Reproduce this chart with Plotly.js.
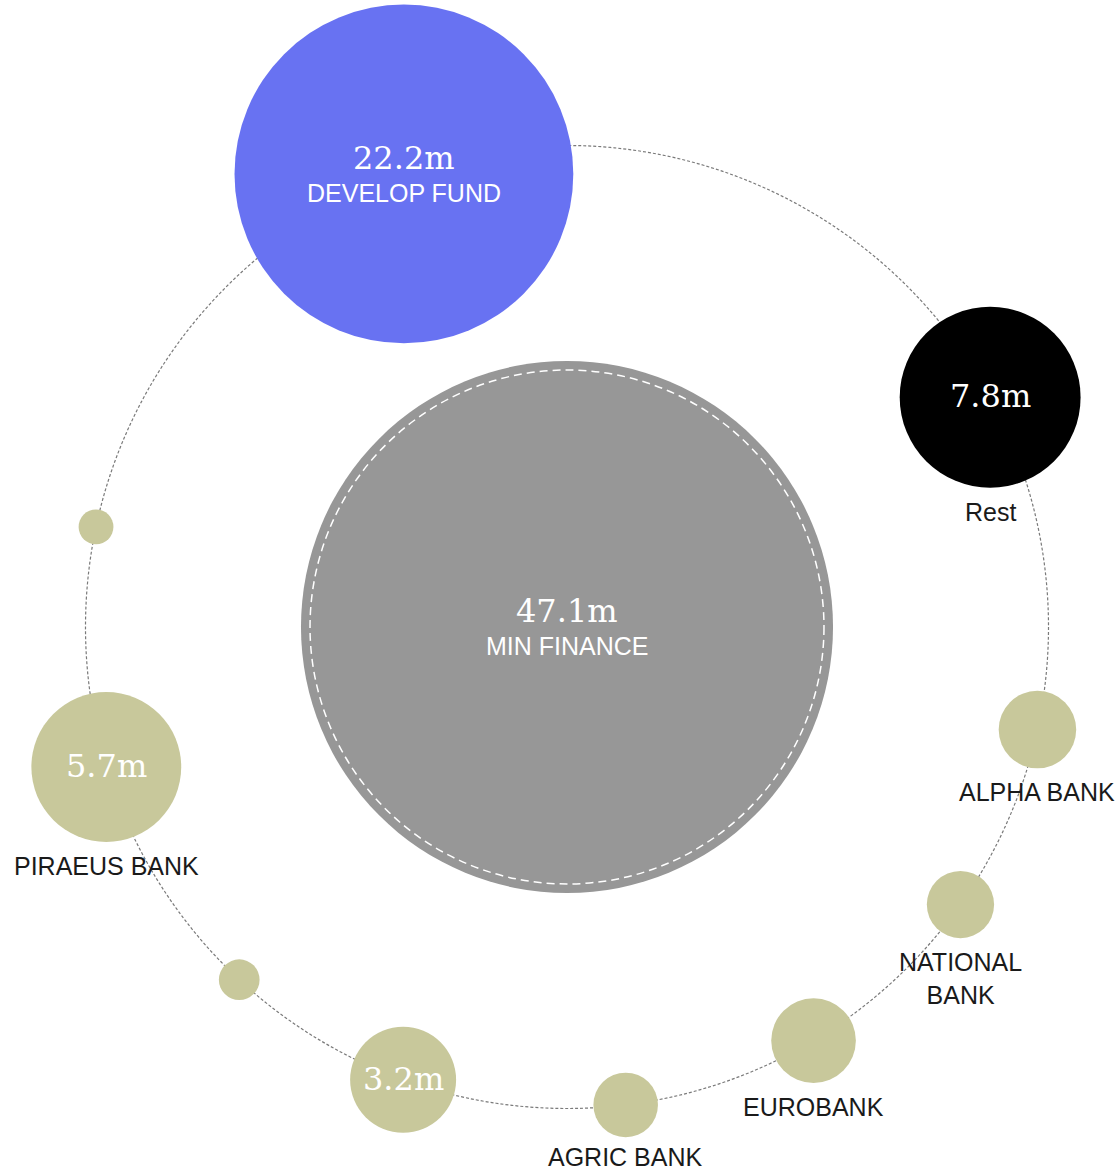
<!DOCTYPE html>
<html>
<head>
<meta charset="utf-8">
<script src="https://cdn.plot.ly/plotly-3.0.1.min.js"></script>
<style>
html,body{margin:0;padding:0;background:#ffffff;}
#chart{width:1117px;height:1172px;}
</style>
</head>
<body>
<div id="chart"></div>
<script>
// ---------- data (millions) ----------
const names   = ["MIN FINANCE", "DEVELOP FUND", "Rest", "ALPHA BANK", "NATIONAL<br>BANK", "EUROBANK", "AGRIC BANK", "", "", "PIRAEUS BANK", ""];
const amounts = [47.1, 22.2, 7.8, 1.9, 1.5, 2.2, 1.4, 3.2, 0.65, 5.7, 0.5];
const groups  = ["centre", "fund", "rest", "bank", "bank", "bank", "bank", "bank", "bank", "bank", "bank"];

// ---------- layout of the ring (position of each holder, degrees) ----------
const onRing    = [0, 1, 1, 1, 1, 1, 1, 1, 1, 1, 1];
const ringAngle = [0, 109.8, 28.5, -12.3, -35.2, -59.2, -83.0, -109.9, -132.9, -163.1, 168.0];

// ---------- styles ----------
const groupColor = {centre: "#979797", fund: "#6872F2", rest: "#000000", bank: "#C8C89B"};
const W = 1117, H = 1172;
const ringPx = 481.5;           // pixel radius of the orbit
const centrePx = [567, 627];    // pixel position of the ring centre
const radiusPx = v => 26.37 * Math.pow(v, 0.6);   // power scale for bubble radius
const labelSize = 25;

const xs = ringAngle.map((a, i) => onRing[i] * Math.cos(a * Math.PI / 180));
const ys = ringAngle.map((a, i) => onRing[i] * Math.sin(a * Math.PI / 180));
const radii = amounts.map(radiusPx);

const bubbles = {
  type: "scatter",
  mode: "markers",
  x: xs, y: ys,
  marker: {
    size: radii.map(r => 2 * r),
    sizemode: "diameter",
    color: groups.map(g => groupColor[g]),
    opacity: 1,
    line: {width: 0}
  },
  cliponaxis: false,
  hoverinfo: "skip"
};

const annotations = [];
amounts.forEach((v, i) => {
  const r = radii[i];
  const innerName = r > 150;
  if (r > 45) {
    annotations.push({
      x: xs[i], y: ys[i], xref: "x", yref: "y",
      text: v.toFixed(1) + "m",
      showarrow: false, xanchor: "center", yanchor: "middle",
      yshift: innerName ? 16 : 1,
      font: {family: "DejaVu Serif", size: 32, color: "#ffffff"}
    });
  }
  if (names[i]) {
    let shift = innerName ? -19 : -(r + 8);
    if (!innerName) {
      // keep the label inside the figure
      const py = centrePx[1] - ys[i] * ringPx;
      const lines = names[i].split("<br>").length;
      const bottom = py + r + 8 + labelSize * 1.2 * lines;
      if (bottom > H - 1) shift += bottom - (H - 1);
    }
    annotations.push({
      x: xs[i], y: ys[i], xref: "x", yref: "y",
      text: names[i],
      showarrow: false, xanchor: "center",
      yanchor: innerName ? "middle" : "top",
      yshift: shift,
      font: {family: "Liberation Sans, Arial, sans-serif", size: labelSize, color: innerName ? "#ffffff" : "#1a1a1a"}
    });
  }
});

const innerRing = radii[0] * 0.966 / ringPx;

const layout = {
  width: W, height: H,
  margin: {l: 0, r: 0, t: 0, b: 0},
  paper_bgcolor: "#ffffff", plot_bgcolor: "#ffffff",
  showlegend: false,
  hovermode: false,
  xaxis: {range: [-centrePx[0] / ringPx, (W - centrePx[0]) / ringPx], visible: false, fixedrange: true},
  yaxis: {range: [-(H - centrePx[1]) / ringPx, centrePx[1] / ringPx], visible: false, fixedrange: true},
  shapes: [
    {type: "circle", xref: "x", yref: "y", x0: -1, x1: 1, y0: -1, y1: 1,
     line: {color: "#7a7a7a", width: 1.2, dash: "3px,2px"}, layer: "below"},
    {type: "circle", xref: "x", yref: "y", x0: -innerRing, x1: innerRing, y0: -innerRing, y1: innerRing,
     line: {color: "#ffffff", width: 1.5, dash: "8px,5px"}, layer: "above"}
  ],
  annotations: annotations
};

Plotly.newPlot("chart", [bubbles], layout, {staticPlot: true, displayModeBar: false});
</script>
</body>
</html>
